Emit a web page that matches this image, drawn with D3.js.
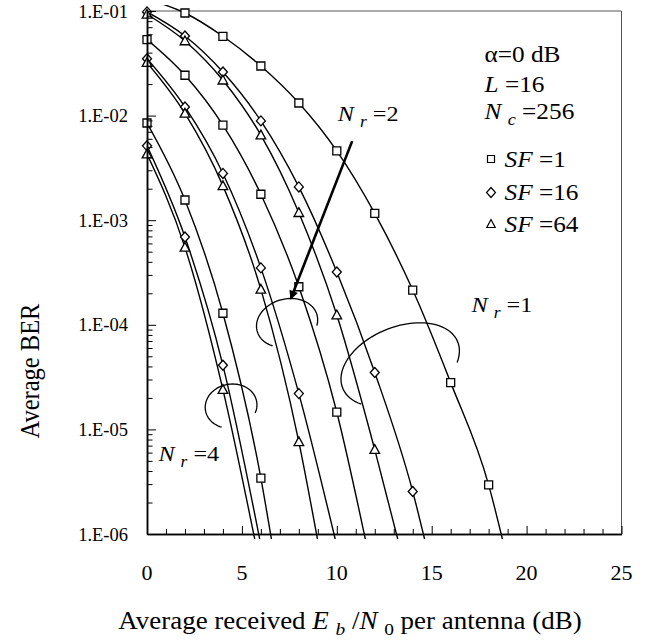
<!DOCTYPE html>
<html>
<head>
<meta charset="utf-8">
<script src="https://cdn.jsdelivr.net/npm/d3@7"></script>
<style>
  body { margin: 0; background: #fff; }
  text { font-family: "Liberation Serif", "Times New Roman", serif; fill: #000; white-space: pre; }
</style>
</head>
<body>
<svg width="647" height="640"></svg>
<script>
// simulated points are every 2 dB starting at 0 dB
var snrPoints = [0, 2, 4, 6, 8, 10, 12, 14, 16, 18];

// Nr = 1
var berNr1Sf1  = [0.13, 0.0957, 0.0573, 0.0298, 0.0132, 4.6e-3, 1.16e-3, 2.15e-4, 2.8e-5, 2.95e-6];
var berNr1Sf16 = [0.098, 0.0577, 0.0261, 8.9e-3, 2.08e-3, 3.2e-4, 3.5e-5, 2.55e-6];
var berNr1Sf64 = [0.093, 0.0517, 0.0218, 6.5e-3, 1.18e-3, 1.24e-4, 6.4e-6];
// Nr = 2
var berNr2Sf1  = [0.0533, 0.0243, 8.1e-3, 1.77e-3, 2.31e-4, 1.46e-5];
var berNr2Sf16 = [0.035, 0.0121, 2.8e-3, 3.5e-4, 2.2e-5];
var berNr2Sf64 = [0.0321, 0.0105, 2.13e-3, 2.18e-4, 7.6e-6];
// Nr = 4
var berNr4Sf1  = [8.5e-3, 1.56e-3, 1.29e-4, 3.42e-6];
var berNr4Sf16 = [5.14e-3, 6.9e-4, 4.1e-5];
var berNr4Sf64 = [4.28e-3, 5.5e-4, 2.4e-5];

// where each curve runs out under the bottom axis
var curveEndSnr = [18.79, 14.69, 13.28, 11.56, 9.98, 9.03, 6.60, 5.99, 5.73];
var curveEndBer = 8e-7;

var seriesBer = [berNr1Sf1, berNr1Sf16, berNr1Sf64, berNr2Sf1, berNr2Sf16, berNr2Sf64, berNr4Sf1, berNr4Sf16, berNr4Sf64];
var seriesSym = ["square", "diamond", "triangle", "square", "diamond", "triangle", "square", "diamond", "triangle"];

var xTicks = [0, 5, 10, 15, 20, 25];
var yTicks = [1e-1, 1e-2, 1e-3, 1e-4, 1e-5, 1e-6];
var legendSf = ["1", "16", "64"];

var svg = d3.select("svg"),
    pL = 147, pR = 621.5, pT = 11, pB = 534;

var x = d3.scaleLinear().domain([0, 25]).range([pL, pR]);
var y = d3.scaleLog().domain([1e-6, 1e-1]).range([pB, pT]);

var symPath = {
  square: "M-4,-4h8v8h-8z",
  diamond: "M0,-5L4.5,0L0,5L-4.5,0Z",
  triangle: "M0,-5L4.8,3.8H-4.8Z"
};
var legSym = {
  square: "M-3.5,-3.5h7v7h-7z",
  diamond: "M0,-5L4.5,0L0,5L-4.5,0Z",
  triangle: "M0,-4.5L4.2,3.5H-4.2Z"
};

// text, slightly wide like the original
function richText(g, px, py, parts, size, anchor, sx) {
  var t = g.append("text")
    .attr("transform", "translate(" + px + "," + py + ") scale(" + (sx || 1.1) + ",1)")
    .attr("font-size", size)
    .attr("text-anchor", anchor || "start");
  var shift = 0;
  parts.forEach(function(p) {
    var s = p.sub ? size * 0.26 : 0;
    t.append("tspan")
      .attr("dy", s - shift)
      .attr("font-style", p.it ? "italic" : null)
      .attr("font-size", p.sub ? size * 0.72 : null)
      .text(p.t);
    shift = s;
  });
  return t;
}

// frame
svg.append("path")
  .attr("d", "M" + pL + "," + pT + "H" + pR + "V" + pB)
  .attr("fill", "none").attr("stroke", "#555").attr("stroke-width", 1);

svg.append("defs").append("clipPath").attr("id", "plotClip")
  .append("rect").attr("x", pL).attr("y", pT - 6).attr("width", pR - pL).attr("height", pB - pT + 11);

// curves
var line = d3.line()
  .x(function(d) { return x(d[0]); })
  .y(function(d) { return y(d[1]); })
  .curve(d3.curveMonotoneX);

var curves = seriesBer.map(function(b, i) {
  var pts = b.map(function(v, j) { return [snrPoints[j], v]; });
  pts.push([curveEndSnr[i], curveEndBer]);
  return pts;
});

svg.append("g").attr("clip-path", "url(#plotClip)")
  .selectAll("path").data(curves).enter().append("path")
  .attr("d", line)
  .attr("fill", "none").attr("stroke", "#000").attr("stroke-width", 1.4);

// markers
var marks = [];
seriesBer.forEach(function(b, i) {
  b.forEach(function(v, j) {
    if (v <= 0.105) marks.push({ s: snrPoints[j], v: v, sym: seriesSym[i] });
  });
});
svg.append("g").selectAll("path").data(marks).enter().append("path")
  .attr("transform", function(d) { return "translate(" + x(d.s) + "," + y(d.v) + ")"; })
  .attr("d", function(d) { return symPath[d.sym]; })
  .attr("fill", "#fff").attr("stroke", "#000").attr("stroke-width", 1.3);

// axes (ticks point inward)
var yMinor = [];
for (var e = -6; e < -1; e++) for (var k = 2; k < 10; k++) yMinor.push(k * Math.pow(10, e));
var xMinor = d3.range(0, 26).filter(function(d) { return d % 5 != 0; });

svg.append("g").attr("transform", "translate(" + pL + ",0)")
  .call(d3.axisLeft(y).tickValues(yMinor).tickSize(-5.5).tickSizeOuter(0).tickFormat(""));
svg.append("g").attr("transform", "translate(" + pL + ",0)")
  .call(d3.axisLeft(y).tickValues(yTicks).tickSize(-9).tickSizeOuter(0).tickFormat(""));
svg.append("g").attr("transform", "translate(0," + pB + ")")
  .call(d3.axisBottom(x).tickValues(xMinor).tickSize(-5).tickSizeOuter(0).tickFormat(""));
svg.append("g").attr("transform", "translate(0," + pB + ")")
  .call(d3.axisBottom(x).tickValues(xTicks).tickSize(-8).tickSizeOuter(0).tickFormat(""));
svg.selectAll(".domain").attr("stroke", "#000").attr("stroke-width", 1.5);
svg.selectAll(".tick line").attr("stroke", "#000").attr("stroke-width", 1);

var labels = svg.append("g");
yTicks.forEach(function(d) {
  richText(labels, pL - 19, y(d) + 6.5, [{ t: "1.E-0" + Math.round(-Math.log10(d)) }], 18.5, "end", 1);
});
xTicks.forEach(function(d) {
  richText(labels, x(d), 580, [{ t: String(d) }], 20, "middle");
});

// axis titles
richText(svg, 350, 629, [
  { t: "Average received " }, { t: "E", it: 1 }, { t: " " }, { t: "b", it: 1, sub: 1 },
  { t: " /" }, { t: "N", it: 1 }, { t: " " }, { t: "0", sub: 1 }, { t: " per antenna (dB)" }
], 24.5, "middle");

svg.append("text")
  .attr("transform", "translate(39,371) rotate(-90) scale(1,1.1)")
  .attr("font-size", 24.5).attr("text-anchor", "middle")
  .text("Average BER");

// legend / parameters
var lx = pR - 137;
richText(svg, lx, 61.5, [{ t: "\u03b1=0 dB" }], 23);
richText(svg, lx, 91.5, [{ t: "L", it: 1 }, { t: " =16" }], 23);
richText(svg, lx, 119, [{ t: "N", it: 1 }, { t: " " }, { t: "c", it: 1, sub: 1 }, { t: " =256" }], 23);
["square", "diamond", "triangle"].forEach(function(s, i) {
  var ly = [159, 192.5, 224][i];
  svg.append("path").attr("transform", "translate(" + (lx + 6.5) + "," + ly + ")")
    .attr("d", legSym[s]).attr("fill", "#fff").attr("stroke", "#000").attr("stroke-width", 1.2);
  richText(svg, lx + 20, ly + 7.5, [{ t: "SF", it: 1 }, { t: " =" + legendSf[i] }], 23);
});

// N_r labels
function nrLabel(px, py, n) {
  richText(svg, px, py, [{ t: "N", it: 1 }, { t: " " }, { t: "r", it: 1, sub: 1 }, { t: " =" + n }], 22);
}
nrLabel(x(10.05), 121, 2);
nrLabel(x(17.1), 312, 1);
nrLabel(x(0.6), 461, 4);

// open ellipses grouping the curves
function ellArc(cs, cb, rx, ry, rot, t0, t1) {
  var cx = x(cs), cy = y(cb), a = rot * Math.PI / 180;
  var pts = d3.range(0, 61).map(function(i) {
    var t = (t0 + (t1 - t0) * i / 60) * Math.PI / 180;
    var ex = rx * Math.cos(t), ey = ry * Math.sin(t);
    return [cx + ex * Math.cos(a) - ey * Math.sin(a), cy + ex * Math.sin(a) + ey * Math.cos(a)];
  });
  svg.append("path").attr("d", d3.line()(pts))
    .attr("fill", "none").attr("stroke", "#000").attr("stroke-width", 1.3);
}
ellArc(13.34, 4.13e-5, 62, 38, -22, 30, -215);
ellArc(7.38, 1.04e-4, 31, 24, -15, 25, -230);
ellArc(4.43, 1.67e-5, 26, 22, -10, 30, -240);

// arrow pointing at the Nr=2 group
svg.select("defs").append("marker")
  .attr("id", "head").attr("viewBox", "0 -5 10 10")
  .attr("refX", 8).attr("refY", 0)
  .attr("markerWidth", 12).attr("markerHeight", 9)
  .attr("markerUnits", "userSpaceOnUse")
  .attr("orient", "auto")
  .append("path").attr("d", "M0,-5L10,0L0,5Z").attr("fill", "#000");
svg.append("line")
  .attr("x1", x(10.81)).attr("y1", y(5.7e-3))
  .attr("x2", x(7.59)).attr("y2", y(1.8e-4))
  .attr("stroke", "#000").attr("stroke-width", 2.6)
  .attr("marker-end", "url(#head)");
</script>
</body>
</html>
